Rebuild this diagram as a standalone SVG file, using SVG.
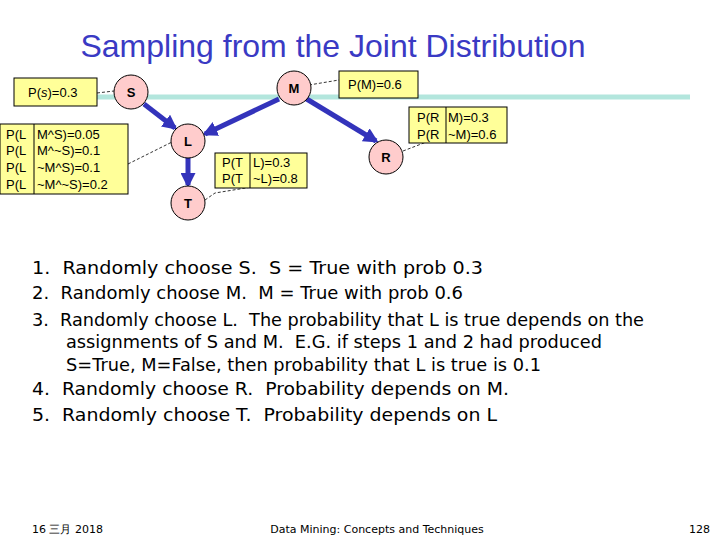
<svg xmlns="http://www.w3.org/2000/svg" width="720" height="540" viewBox="0 0 720 540">
<defs>
<style>
.box{fill:#ffff99;stroke:#000;stroke-width:1}
.nd{fill:#ffcccc;stroke:#000;stroke-width:1}
.lb{font-family:"Liberation Sans",Arial,sans-serif;font-size:13px;fill:#000}
.nl{font-family:"Liberation Sans",Arial,sans-serif;font-size:13px;font-weight:bold;text-anchor:middle}
.dash{stroke:#000;stroke-width:0.8;stroke-dasharray:3,2;fill:none}
.arr{stroke:#3333bb;stroke-width:5;fill:none;marker-end:url(#ah)}
.tx{font-family:"DejaVu Sans",Verdana,sans-serif;font-size:17.5px;fill:#000;white-space:pre}
.ft{font-family:"DejaVu Sans",Verdana,sans-serif;font-size:11px;fill:#000}
</style>
<marker id="ah" viewBox="0 0 10 10" refX="8" refY="5" markerWidth="3" markerHeight="3" orient="auto"><path d="M0,0L10,5L0,10z" fill="#3333bb"/></marker>
</defs>
<rect width="720" height="540" fill="#fff"/>
<text x="333" y="57" text-anchor="middle" font-family="Liberation Sans,Arial,sans-serif" font-size="32" fill="#3a3ac4">Sampling from the Joint Distribution</text>
<line x1="97" y1="97" x2="690" y2="97" stroke="#b3e6dd" stroke-width="5"/>
<g id="connectors">
<path class="arr" d="M144,104L175,128"/>
<path class="arr" d="M279,99L205,134"/>
<path class="arr" d="M305,98L376,141"/>
<path class="arr" d="M188,158L188,185"/>
<path class="dash" d="M97,93L114,91"/>
<path class="dash" d="M309,85L339,80"/>
<path class="dash" d="M128,164L172,142"/>
<path class="dash" d="M205,200L215,193L307,178"/>
<path class="dash" d="M403,151L450,133"/>
</g>
<g id="ps"><rect class="box" x="14" y="78" width="83" height="28"/><text class="lb" x="28" y="97">P(<tspan font-style="italic">s</tspan>)=0.3</text></g>
<g id="pm"><rect class="box" x="339" y="71" width="79" height="27"/><text class="lb" x="348" y="89">P(M)=0.6</text></g>
<g id="pr"><rect class="box" x="409" y="107" width="98" height="36"/><line x1="446" y1="107" x2="446" y2="143" stroke="#000"/><text class="lb" x="417" y="122">P(R</text><text class="lb" x="448" y="122">M)=0.3</text><text class="lb" x="417" y="139">P(R</text><text class="lb" x="448" y="139">~M)=0.6</text></g>
<g id="pl"><rect class="box" x="0" y="124" width="128" height="70"/><line x1="34" y1="124" x2="34" y2="194" stroke="#000"/>
<text class="lb" x="6" y="139">P(L</text><text class="lb" x="37" y="139">M^S)=0.05</text>
<text class="lb" x="6" y="155">P(L</text><text class="lb" x="37" y="155">M^~S)=0.1</text>
<text class="lb" x="6" y="172">P(L</text><text class="lb" x="37" y="172">~M^S)=0.1</text>
<text class="lb" x="6" y="189">P(L</text><text class="lb" x="37" y="189">~M^~S)=0.2</text></g>
<g id="pt"><rect class="box" x="215" y="153" width="92" height="35"/><line x1="250" y1="153" x2="250" y2="188" stroke="#000"/><text class="lb" x="222" y="167">P(T</text><text class="lb" x="253" y="167">L)=0.3</text><text class="lb" x="222" y="183">P(T</text><text class="lb" x="253" y="183">~L)=0.8</text></g>
<g id="S"><circle class="nd" cx="131" cy="92" r="17"/><text class="nl" x="131" y="97">S</text></g>
<g id="M"><circle class="nd" cx="294" cy="88" r="17"/><text class="nl" x="294" y="93">M</text></g>
<g id="L"><circle class="nd" cx="188" cy="141" r="17"/><text class="nl" x="188" y="146">L</text></g>
<g id="R"><circle class="nd" cx="386" cy="157" r="17"/><text class="nl" x="386" y="162">R</text></g>
<g id="T"><circle class="nd" cx="188" cy="203" r="17"/><text class="nl" x="188" y="208">T</text></g>
<g id="text">
<text class="tx" x="32" y="274" textLength="451" lengthAdjust="spacingAndGlyphs">1.  Randomly choose S.  S = True with prob 0.3</text>
<text class="tx" x="32" y="299" textLength="431" lengthAdjust="spacingAndGlyphs">2.  Randomly choose M.  M = True with prob 0.6</text>
<text class="tx" x="32" y="326" textLength="612" lengthAdjust="spacingAndGlyphs">3.  Randomly choose L.  The probability that L is true depends on the</text>
<text class="tx" x="66" y="348" textLength="536" lengthAdjust="spacingAndGlyphs">assignments of S and M.  E.G. if steps 1 and 2 had produced</text>
<text class="tx" x="66" y="371" textLength="475" lengthAdjust="spacingAndGlyphs">S=True, M=False, then probability that L is true is 0.1</text>
<text class="tx" x="32" y="395" textLength="477" lengthAdjust="spacingAndGlyphs">4.  Randomly choose R.  Probability depends on M.</text>
<text class="tx" x="32" y="421" textLength="465" lengthAdjust="spacingAndGlyphs">5.  Randomly choose T.  Probability depends on L</text>
</g>
<text class="ft" x="32" y="533" font-family="DejaVu Sans,Noto Sans CJK SC,sans-serif">16 三月 2018</text>
<text class="ft" x="377" y="533" text-anchor="middle">Data Mining: Concepts and Techniques</text>
<text class="ft" x="710" y="533" text-anchor="end">128</text>
</svg>
